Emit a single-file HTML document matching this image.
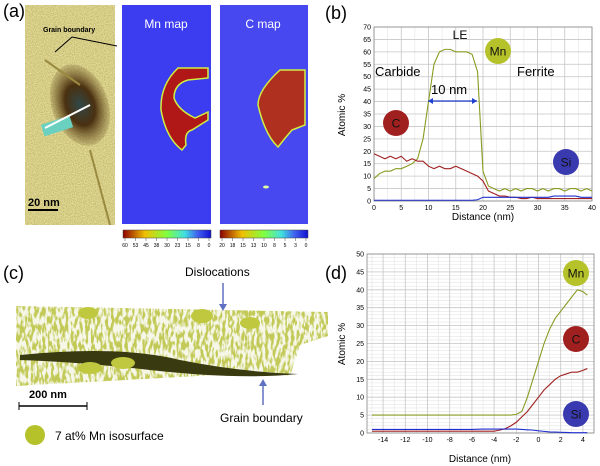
<!DOCTYPE html>
<html><head><meta charset="utf-8"><style>
body{margin:0;background:#fff;width:600px;height:466px;overflow:hidden;font-family:"Liberation Sans",sans-serif}
svg{position:absolute;left:0;top:0}
</style></head><body>
<svg id="fig" width="600" height="466" viewBox="0 0 600 466">
<defs>
<filter id="speck" x="0" y="0" width="1" height="1"><feTurbulence type="fractalNoise" baseFrequency="0.9" numOctaves="1" seed="3"/><feColorMatrix values="0 0 0 0 0.45  0 0 0 0 0.4  0 0 0 0 0.1  0 0 0 -1.6 1.1"/><feComposite in2="SourceGraphic" operator="in"/></filter>
<filter id="green" x="0" y="0" width="1" height="1"><feTurbulence type="fractalNoise" baseFrequency="0.35 0.12" numOctaves="2" seed="7"/><feColorMatrix values="0 0 0 0 0.55  0 0 0 0 0.6  0 0 0 0 0.1  0 0 0 -6 3.4"/><feComposite in2="SourceGraphic" operator="in"/></filter>
<linearGradient id="jet1" x1="0" x2="1"><stop offset="0" stop-color="#8b0000"/><stop offset="0.25" stop-color="#f0c000"/><stop offset="0.5" stop-color="#80ff40"/><stop offset="0.7" stop-color="#40e0e0"/><stop offset="0.85" stop-color="#4060f0"/><stop offset="1" stop-color="#1010d0"/></linearGradient>
<radialGradient id="blob"><stop offset="0" stop-color="#304848"/><stop offset="0.5" stop-color="#4a3010"/><stop offset="1" stop-color="#6b5020" stop-opacity="0.2"/></radialGradient>
</defs>
<!-- panel a -->
<text x="3" y="17" font-size="18">(a)</text>
<g>
<rect x="25" y="5" width="90" height="220" fill="#e4dc9a"/>
<rect x="25" y="5" width="90" height="220" fill="#000" filter="url(#speck)"/>
<ellipse cx="80" cy="105" rx="28" ry="42" fill="url(#blob)" transform="rotate(-20 80 105)"/>
<line x1="45" y1="60" x2="80" y2="85" stroke="#9a8a40" stroke-width="2"/>
<line x1="90" y1="150" x2="110" y2="225" stroke="#9a8a40" stroke-width="2"/>
<rect x="42" y="120" width="30" height="12" fill="#6ad0c0" transform="rotate(-18 57 126)"/>
<line x1="45" y1="128" x2="90" y2="105" stroke="#fff" stroke-width="2"/>
<text x="43" y="32" font-size="7" font-weight="bold">Grain boundary</text>
<line x1="72" y1="37" x2="55" y2="52" stroke="#000"/><line x1="72" y1="37" x2="117" y2="46" stroke="#000"/>
<line x1="28" y1="210" x2="58" y2="210" stroke="#000" stroke-width="2"/>
<text x="28" y="206" font-size="11" font-weight="bold">20 nm</text>
</g>
<g>
<rect x="122" y="5" width="89" height="219" fill="#3c3cf0"/>
<text x="166" y="28" font-size="12" fill="#fff" text-anchor="middle">Mn map</text>
<path d="M208 68 L178 68 Q160 85 161 110 Q166 138 182 150 L186 145 Q184 132 192 130 L208 120 L208 112 L195 118 Q178 110 174 98 Q174 84 188 80 L208 78 Z" fill="#b01818" stroke="#d0f040" stroke-width="1.5"/>
</g>
<g>
<rect x="220" y="5" width="88" height="219" fill="#4848f0"/>
<text x="263" y="28" font-size="12" fill="#fff" text-anchor="middle">C map</text>
<path d="M305 70 L280 70 Q258 90 258 105 Q265 135 278 147 Q285 138 292 130 L305 125 Z" fill="#b03020" stroke="#d0f040" stroke-width="1.5"/>
<ellipse cx="266" cy="187" rx="3" ry="1.5" fill="#e0ffa0"/>
</g>
<g font-size="5" text-anchor="middle">
<rect x="123" y="230" width="88" height="8" fill="url(#jet1)" stroke="#444" stroke-width="0.5"/>
<rect x="220" y="230" width="88" height="8" fill="url(#jet1)" stroke="#444" stroke-width="0.5"/>
<g id="cb"></g>
</g>
<!-- panel c -->
<text x="3" y="279" font-size="18">(c)</text>
<g>
<path d="M16 306 L328 312 L328 336 L300 345 L290 376 L270 372 L16 386 Z" fill="#000" filter="url(#green)"/>
<path d="M16 306 L328 312 L328 336 L300 345 L290 376 L270 372 L16 386 Z" fill="#b8c040" opacity="0.12"/>
<path d="M20 355 Q120 345 180 360 Q240 372 298 374 Q240 380 150 370 Q80 362 20 360 Z" fill="#3a3a10"/>
<ellipse cx="88" cy="313" rx="10" ry="6" fill="#c0c840"/><ellipse cx="202" cy="316" rx="11" ry="7" fill="#c0c840"/>
<ellipse cx="90" cy="368" rx="12" ry="6" fill="#c0c840"/><ellipse cx="123" cy="363" rx="12" ry="6" fill="#c0c840"/>
<ellipse cx="250" cy="323" rx="10" ry="6" fill="#c0c840"/>
</g>
<text x="185" y="276" font-size="12">Dislocations</text>
<line x1="223" y1="283" x2="223" y2="308" stroke="#6070c0" stroke-width="1.5"/><path d="M219 304 L223 311 L227 304 Z" fill="#6070c0"/>
<line x1="263" y1="405" x2="263" y2="382" stroke="#6070c0" stroke-width="1.5"/><path d="M259 386 L263 379 L267 386 Z" fill="#6070c0"/>
<text x="220" y="422" font-size="12">Grain boundary</text>
<text x="29" y="398" font-size="11" font-weight="bold">200 nm</text>
<line x1="19" y1="406" x2="87" y2="406" stroke="#000" stroke-width="1.5"/><line x1="19" y1="402" x2="19" y2="410" stroke="#000"/><line x1="87" y1="402" x2="87" y2="410" stroke="#000"/>
<circle cx="35" cy="435" r="10" fill="#b5c22a"/>
<text x="55" y="440" font-size="12">7 at% Mn isosurface</text>
<!-- panel b / d -->
<text x="325" y="19" font-size="18">(b)</text>
<text x="325" y="279" font-size="18">(d)</text>
<g id="chartB"></g>
<g id="chartD"></g>
</svg>
<script>
const NS="http://www.w3.org/2000/svg";
function mk(p,t,a,txt){const e=document.createElementNS(NS,t);for(const k in a)e.setAttribute(k,a[k]);if(txt!==undefined)e.textContent=txt;p.appendChild(e);return e;}
const cbMnLabels=["60","53","45","38","30","23","15","8","0"];
const cbCLabels=["20","18","15","13","10","8","5","3","0"];
const cb=document.getElementById('cb');
[[123,cbMnLabels],[220,cbCLabels]].forEach(([x0,labs])=>{labs.forEach((l,i)=>{const x=x0+2+i*84/8;mk(cb,'line',{x1:x,x2:x,y1:238,y2:241,stroke:'#444','stroke-width':0.5});const t=mk(cb,'text',{x:x,y:247},l);

});});

const bDist=[0,1,2,3,4,5,6,7,8,9,10,11,12,13,14,15,16,17,18,19,20,21,22,23,24,25,26,27,28,29,30,31,32,33,34,35,36,37,38,39,40];
const bMn=[9,11,12,12,13,13,14,15,17,25,40,55,60,61,61,60,60,60,59,52,12,6,5,4,5,4,5,4,5,5,4,5,4,5,5,4,5,5,4,5,4];
const bC=[19,18,17,18,17,18,16,17,16,16,14,13,14,13,13,14,13,12,11,10,8,4,3,2,2,1.5,1.5,1,1,1.5,1,1,1,1,1,1,1,1,1,1,1];
const bSi=[0.3,0.3,0.3,0.3,0.3,0.3,0.3,0.3,0.3,0.3,0.3,0.3,0.3,0.3,0.3,0.3,0.3,0.3,0.3,0.5,1.5,1.5,1.5,1.5,1.5,1.5,1.5,1.5,1.5,1.5,1.5,1.5,1.5,2,2,2,2,2,1.5,1.5,1.5];
const bXTicks=[0,5,10,15,20,25,30,35,40];
const bYTicks=[0,5,10,15,20,25,30,35,40,45,50,55,60,65,70];
const dDist=[-15,-14,-13,-12,-11,-10,-9,-8,-7,-6,-5,-4,-3.5,-3,-2.5,-2,-1.5,-1,-0.5,0,0.5,1,1.5,2,2.5,3,3.5,4,4.4];
const dMn=[5,5,5,5,5,5,5,5,5,5,5,5,5,5,5,5.2,6,10,15,20,25,29,32,34,36,38,40,39.5,38.5];
const dC=[0.5,0.5,0.5,0.5,0.5,0.5,0.5,0.5,0.5,0.5,0.5,0.5,0.8,1.2,2,3,4.5,6,8,10,12,13.5,15,16,16.5,17,17,17.5,18];
const dSi=[1,1,1,1,1,1,1,1,1,1,1.1,1.1,1.1,1.1,1.1,1.1,1,0.9,0.8,0.6,0.45,0.3,0.25,0.2,0.15,0.1,0.1,0.1,0.1];
const dXTicks=[-14,-12,-10,-8,-6,-4,-2,0,2,4];
const dYTicks=[0,5,10,15,20,25,30,35,40,45,50];

function chart(g,box,xr,yr,xt,yt,minX,minY,series,names){
  const sx=v=>box.x+(v-xr[0])/(xr[1]-xr[0])*box.w, sy=v=>box.y+box.h-(v-yr[0])/(yr[1]-yr[0])*box.h;
  mk(g,'rect',{x:box.x,y:box.y,width:box.w,height:box.h,fill:'#fff'});
  for(let v=Math.ceil(xr[0]/minX)*minX;v<=xr[1];v+=minX){mk(g,'line',{x1:sx(v),x2:sx(v),y1:box.y,y2:box.y+box.h,stroke:'#e4e4e4','stroke-width':0.6});}
  for(let v=yr[0];v<=yr[1];v+=minY){mk(g,'line',{x1:box.x,x2:box.x+box.w,y1:sy(v),y2:sy(v),stroke:'#e4e4e4','stroke-width':0.6});}
  xt.forEach(v=>{mk(g,'line',{x1:sx(v),x2:sx(v),y1:box.y,y2:box.y+box.h,stroke:'#c8c8c8','stroke-width':0.8});
    const t=mk(g,'text',{x:sx(v),y:box.y+box.h+9,'font-size':7,'text-anchor':'middle'},String(v));
    
    });
  yt.forEach(v=>{mk(g,'line',{x1:box.x,x2:box.x+box.w,y1:sy(v),y2:sy(v),stroke:'#c8c8c8','stroke-width':0.8});
    const t=mk(g,'text',{x:box.x-3,y:sy(v)+2.5,'font-size':7,'text-anchor':'end'},String(v));
    
    });
  mk(g,'rect',{x:box.x,y:box.y,width:box.w,height:box.h,fill:'none',stroke:'#888','stroke-width':0.8});
  series.forEach((s,i)=>{const pts=s.y.map((v,j)=>sx(s.x[j])+','+sy(v)).join(' ');
    const l=mk(g,'polyline',{points:pts,fill:'none',stroke:s.c,'stroke-width':1.1});
    
    });
  return {sx,sy};
}
const gb=document.getElementById('chartB');
chart(gb,{x:374,y:27,w:218,h:174},[0,40],[0,70],bXTicks,bYTicks,2.5,5,
 [{x:bDist,y:bMn,c:'#8a9a20'},{x:bDist,y:bC,c:'#a02020'},{x:bDist,y:bSi,c:'#2030d0'}],['series-mn-b','series-c-b','series-si-b']);
const gd=document.getElementById('chartD');
chart(gd,{x:367,y:254,w:227,h:179},[-15.45,5],[0,50],dXTicks,dYTicks,1,1,
 [{x:dDist,y:dMn,c:'#8a9a20'},{x:dDist,y:dC,c:'#a02020'},{x:dDist,y:dSi,c:'#2030d0'}],['series-mn-d','series-c-d','series-si-d']);

function txt(p,a,s,name){const t=mk(p,'text',a,s);
 
 }
function bubble(p,cx,cy,col,s,name){mk(p,'circle',{cx:cx,cy:cy,r:13,fill:col});
 const t=mk(p,'text',{x:cx,y:cy+4.5,'font-size':12,'text-anchor':'middle',fill:'#111'},s);
 
 }
txt(gb,{x:345,y:115,'font-size':10,'text-anchor':'middle',transform:'rotate(-90 345 115)'},'Atomic %','y-axis-title-b');
txt(gb,{x:483,y:220,'font-size':10,'text-anchor':'middle'},'Distance (nm)','x-axis-title-b');
txt(gb,{x:460,y:39,'font-size':12,'text-anchor':'middle'},'LE','le-label');
txt(gb,{x:375,y:76,'font-size':13},'Carbide','carbide-label');
txt(gb,{x:517,y:76,'font-size':13},'Ferrite','ferrite-label');
txt(gb,{x:431,y:94,'font-size':13},'10 nm','width-label');
mk(gb,'line',{x1:428,x2:477,y1:101,y2:101,stroke:'#2040d0','stroke-width':1.2});
mk(gb,'path',{d:'M428 101 l5 -3 v6 Z M477 101 l-5 -3 v6 Z',fill:'#2040d0'});
bubble(gb,498,51,'#b5c22a','Mn','mn-bubble-b');bubble(gb,396,123,'#a02020','C','c-bubble-b');bubble(gb,566,162,'#3a3ab0','Si','si-bubble-b');
txt(gd,{x:345,y:344,'font-size':10,'text-anchor':'middle',transform:'rotate(-90 345 344)'},'Atomic %','y-axis-title-d');
txt(gd,{x:480,y:462,'font-size':10,'text-anchor':'middle'},'Distance (nm)','x-axis-title-d');
bubble(gd,576,273,'#b5c22a','Mn','mn-bubble-d');bubble(gd,576,339,'#a02020','C','c-bubble-d');bubble(gd,576,414,'#3a3ab0','Si','si-bubble-d');
</script>
</body></html>
